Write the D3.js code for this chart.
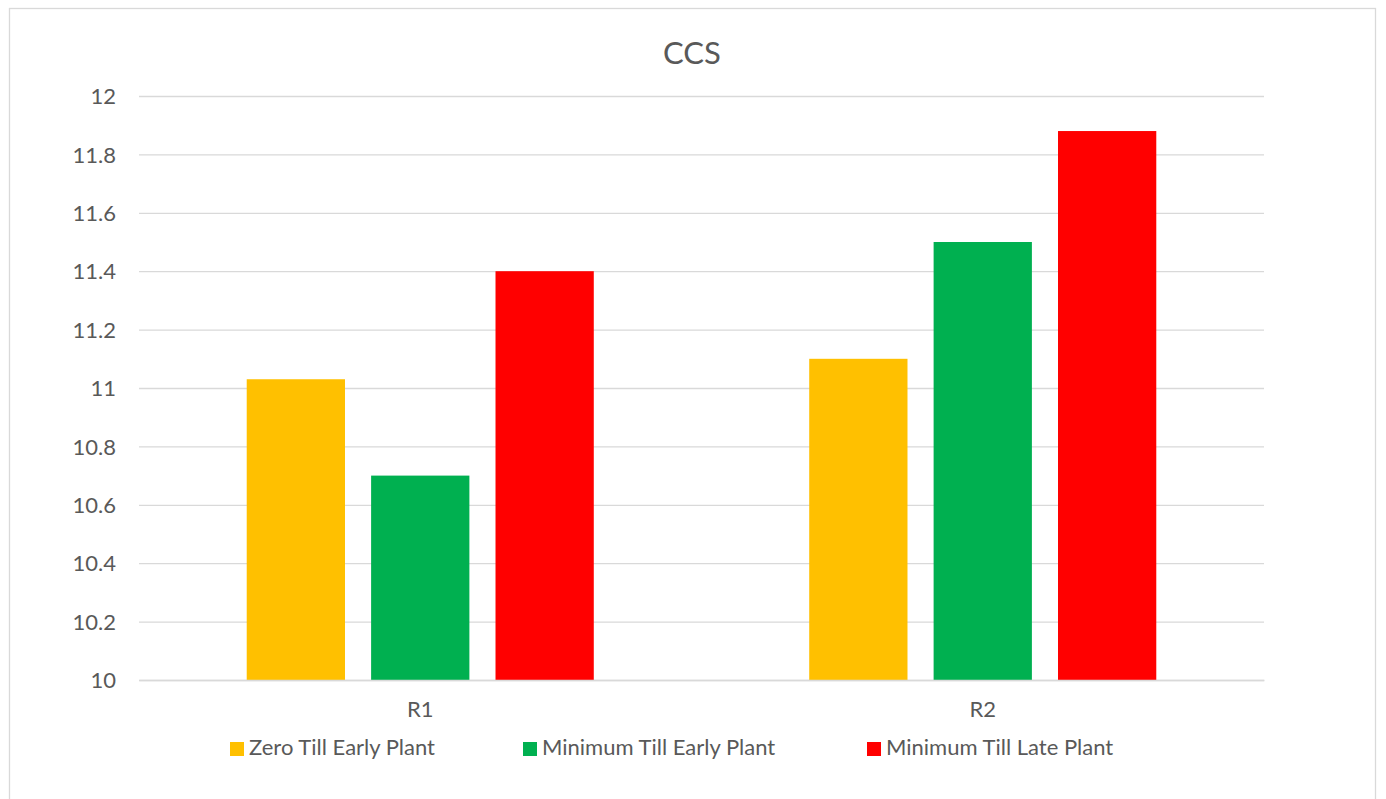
<!DOCTYPE html>
<html><head><meta charset="utf-8">
<script src="https://cdn.jsdelivr.net/npm/d3@7"></script>
<style>body{margin:0;background:#fff;} text{font-family:Lato,"Open Sans",sans-serif;fill:#595959;}</style>
</head><body>
<svg id="c" width="1386" height="799"></svg>
<script>
const categories = ["R1", "R2"];
const seriesNames = ["Zero Till Early Plant", "Minimum Till Early Plant", "Minimum Till Late Plant"];
const seriesColors = ["#FFC000", "#00B050", "#FF0000"];
const zeroTillEarly = [11.03, 11.1];
const minTillEarly = [10.7, 11.5];
const minTillLate = [11.4, 11.88];
const yTicks = [10, 10.2, 10.4, 10.6, 10.8, 11, 11.2, 11.4, 11.6, 11.8, 12];
const seriesValues = [zeroTillEarly, minTillEarly, minTillLate];

const svg = d3.select("#c");
svg.append("rect").attr("x", 9.5).attr("y", 8.5).attr("width", 1366).attr("height", 820)
  .attr("fill", "#fff").attr("stroke", "#d9d9d9").attr("stroke-width", 1.3);

const pLeft = 139, pRight = 1264, pTop = 96, pBottom = 680;
const y = d3.scaleLinear().domain([10, 12]).range([pBottom, pTop]);
const x0 = d3.scaleBand().domain(categories).range([pLeft, pRight]).paddingInner(0.383).paddingOuter(0.1915);
const x1 = d3.scaleBand().domain(d3.range(seriesNames.length)).range([0, x0.bandwidth()]).paddingInner(0.21).paddingOuter(0);

// gridlines
const yAxis = d3.axisLeft(y).tickValues(yTicks).tickSize(-(pRight - pLeft)).tickFormat(d => d3.format("~g")(d));
const g = svg.append("g").attr("transform", `translate(${pLeft},0)`).call(yAxis);
g.select(".domain").remove();
g.selectAll(".tick line").attr("stroke", "#d9d9d9").attr("stroke-width", 1.3);
g.selectAll(".tick text").attr("x", -23).attr("dy", "0.35em").attr("font-size", 22).style("font-family", "Lato").style("fill", "#595959");

// bars
categories.forEach((cat, ci) => {
  seriesValues.forEach((vals, si) => {
    svg.append("rect")
      .attr("x", x0(cat) + x1(si))
      .attr("y", y(vals[ci]))
      .attr("width", x1.bandwidth())
      .attr("height", y(10) - y(vals[ci]))
      .attr("fill", seriesColors[si]);
  });
});

// x axis
const xAxis = d3.axisBottom(x0).tickSize(0).tickPadding(0);
const gx = svg.append("g").attr("transform", `translate(0,${pBottom})`).call(xAxis);
gx.select(".domain").attr("stroke", "#d9d9d9").attr("stroke-width", 1.3);
gx.selectAll(".tick text").attr("y", 37).attr("dy", 0).attr("font-size", 22).style("font-family", "Lato").style("fill", "#595959");

// title
svg.append("text").attr("x", 692).attr("y", 64).attr("text-anchor", "middle").attr("font-size", 31).text("CCS");

// legend
const legendX = [230, 523, 867];
seriesNames.forEach((n, i) => {
  svg.append("rect").attr("x", legendX[i]).attr("y", 742).attr("width", 14).attr("height", 14).attr("fill", seriesColors[i]);
  svg.append("text").attr("x", legendX[i] + 19).attr("y", 755).attr("font-size", 22).text(n);
});
</script>
</body></html>
